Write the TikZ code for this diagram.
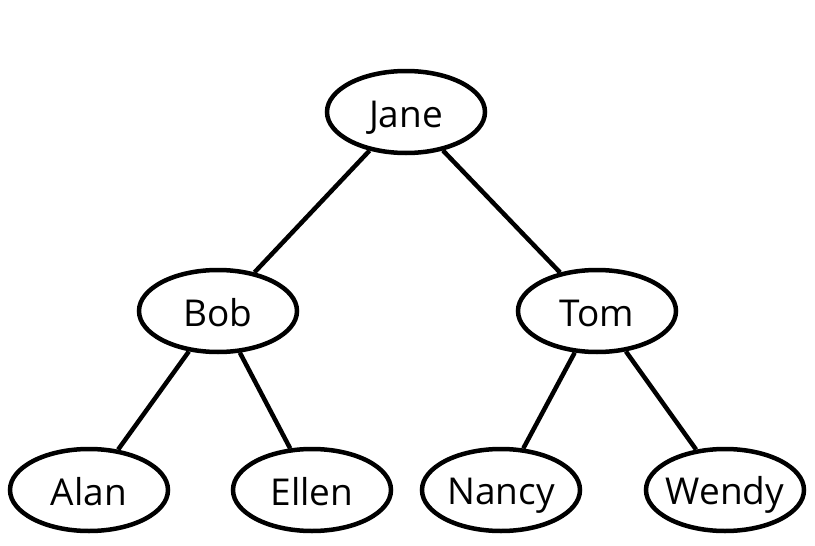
\documentclass[tikz,border=0pt]{standalone}
\usepackage{fontspec}
\setmainfont{Open Sans}
\usetikzlibrary{shapes.geometric}
\newcommand\personlabel[1]{\makebox[0pt]{\rule{0pt}{38pt}\rule[-8pt]{0pt}{8pt}#1}}
\begin{document}
\begin{tikzpicture}[x=1pt,y=-1pt,
  person/.style={draw=black,ellipse,line width=4.5pt,minimum width=158pt,minimum height=82pt,inner sep=0pt,font=\fontsize{37}{40}\selectfont},
  link/.style={line width=4.5pt}]
\useasboundingbox (0,0) rectangle (815,546);
\node[person] (jane) at (406,112) {\personlabel{Jane}};
\node[person] (bob) at (218,311) {\personlabel{Bob}};
\node[person] (tom) at (597,311) {\personlabel{Tom}};
\node[person] (alan) at (89,490) {\personlabel{Alan}};
\node[person] (ellen) at (312,490) {\personlabel{Ellen}};
\node[person] (nancy) at (501,490) {\personlabel{Nancy}};
\node[person] (wendy) at (725,490) {\personlabel{Wendy}};
\draw[link] (jane) -- (bob);
\draw[link] (jane) -- (tom);
\draw[link] (bob) -- (alan);
\draw[link] (bob) -- (ellen);
\draw[link] (tom) -- (nancy);
\draw[link] (tom) -- (wendy);
\end{tikzpicture}
\end{document}
